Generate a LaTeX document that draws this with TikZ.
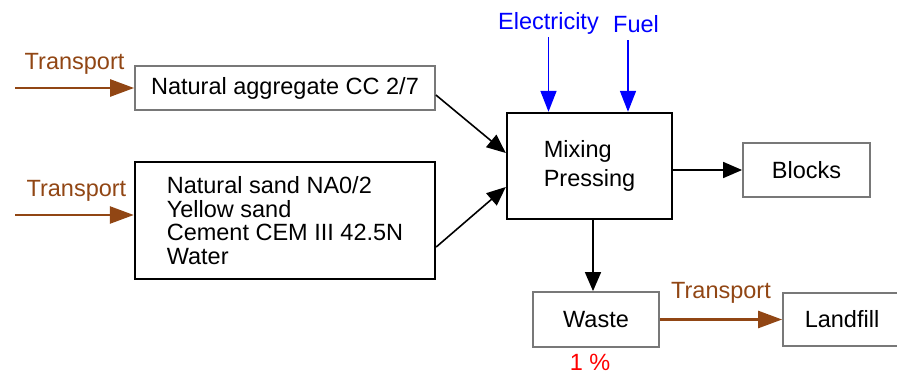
\documentclass[tikz,border=0pt]{standalone}
\usepackage{fontspec}
\setmainfont{Liberation Sans}
\usetikzlibrary{arrows.meta}
\definecolor{trbrown}{RGB}{145,70,20}
\definecolor{boxgray}{RGB}{120,120,120}

\begin{document}
\begin{tikzpicture}[x=1pt,y=-1pt,
  font=\fontsize{23.5}{23.7}\selectfont,
  graybox/.style={draw=boxgray,line width=1.8pt,inner sep=0pt},
  blackbox/.style={draw=black,line width=2.4pt,inner sep=0pt},
  flow/.style={line width=1.6pt,-{Triangle[length=19pt,width=16pt]}},
  transp/.style={trbrown,line width=2.6pt,-{Triangle[length=24pt,width=17pt]}},
  energy/.style={blue,line width=1.6pt,-{Triangle[length=21pt,width=16pt]}},
  lbl/.style={inner sep=2pt}]
\useasboundingbox (0,0) rectangle (897,375);
% boxes
\node[graybox,minimum width=300pt,minimum height=44pt] (agg) at (285,88) {Natural aggregate CC 2/7};
\node[blackbox,minimum width=300pt,minimum height=117pt,align=left] (sand) at (285,220.5)
  {Natural sand NA0/2\\Yellow sand\\Cement CEM III 42.5N\\Water};
\node[blackbox,minimum width=165pt,minimum height=106pt,align=left] (mix) at (589.5,166)
  {Mixing\\[6pt]Pressing};
\node[graybox,minimum width=127pt,minimum height=54pt] (blocks) at (806.5,170) {Blocks};
\node[graybox,minimum width=126pt,minimum height=55pt] (waste) at (596,319.5) {Waste};
\node[graybox,minimum width=118pt,minimum height=53pt] (landfill) at (842,319.5) {Landfill};
% inputs
\coordinate (tr1) at (15,88);
\coordinate (tr2) at (15,215);
\draw[transp] (tr1) -- (agg.west) node[midway,lbl,above=10pt,trbrown] {Transport};
\draw[transp] (tr2) -- (tr2 -| sand.west) node[midway,lbl,above=10pt,trbrown,xshift=2pt] {Transport};
\node[lbl,blue,anchor=south] (elec) at (548.5,37) {Electricity};
\node[lbl,blue,anchor=south] (fuel) at (636,35) {Fuel};
\coordinate (fueltop) at (628,40);
\draw[energy] (elec.south) -- (elec.south |- mix.north);
\draw[energy] (fueltop) -- (fueltop |- mix.north);
% flows
\draw[flow] ([yshift=-7pt]agg.east) -- ([yshift=13pt]mix.west);
\draw[flow] ([yshift=-26.5pt]sand.east) -- ([yshift=-21pt]mix.west);
\draw[flow] ([yshift=-4pt]mix.east) -- ([yshift=0pt]blocks.west);
\draw[flow] (mix.south -| waste.north) ++(-3pt,0) coordinate (mixout) -- (mixout |- waste.north);
\draw[transp] (waste.east) -- (landfill.west) node[midway,lbl,above=13pt,trbrown] {Transport};
\node[red] (share) at (590,362) {1 \%};
\end{tikzpicture}
\end{document}
